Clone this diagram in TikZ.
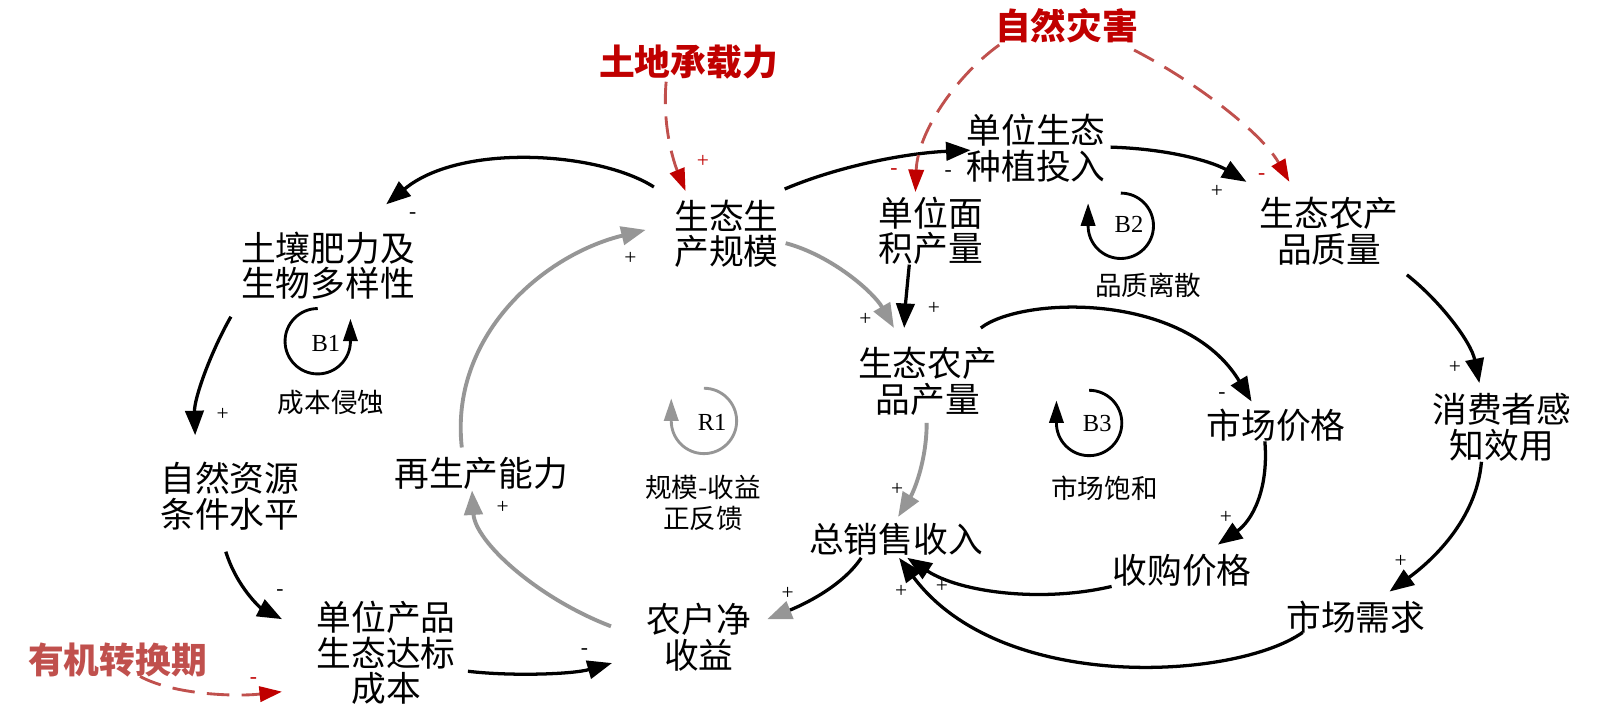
\documentclass[tikz,border=0pt]{standalone}
\usepackage{fontspec}
\setmainfont{Liberation Serif}
\newfontfamily\cjk{Noto Sans CJK SC}
\usetikzlibrary{arrows.meta}
\definecolor{darkred}{RGB}{192,0,0}
\definecolor{lred}{RGB}{192,80,77}
\definecolor{lgray}{RGB}{150,150,150}
\tikzset{
 var/.style={font=\cjk\fontsize{34}{35}\selectfont, align=center, inner sep=0pt},
 exo/.style={font=\cjk\bfseries\fontsize{35}{36}\selectfont, text=darkred, inner sep=0pt},
 small/.style={font=\cjk\fontsize{26}{30}\selectfont, align=center, inner sep=0pt},
 loopname/.style={font=\fontsize{24}{24}\selectfont, inner sep=0pt},
 sgn/.style={font=\fontsize{21}{21}\selectfont, inner sep=0pt},
 rsgn/.style={sgn, text=darkred},
 link/.style={line width=3.2pt, -{Triangle[length=24pt,width=18pt]}},
 glink/.style={line width=3.8pt, draw=lgray, -{Triangle[length=24pt,width=18pt]}},
 rlink/.style={line width=2.8pt, draw=lred, dash pattern=on 22pt off 12pt, -{Triangle[length=22pt,width=15pt,color=darkred]}},
 loopc/.style={line width=2.8pt, -{Triangle[length=22pt,width=14pt]}},
}
\begin{document}
\begin{tikzpicture}[x=1pt,y=-1pt]
\useasboundingbox (0,0) rectangle (1568,703);
% variables
\node[exo] (tdcz) at (674,61) {土地承载力};
\node[exo] (zrzh) at (1044,25) {自然灾害};
\node[exo, text=lred] (yjzh) at (115,646) {有机转换期};
\node[var] (trj) at (1014,145) {单位生态\\种植投入};
\node[var] (scale) at (711,229) {生态生\\产规模};
\node[var] (soil) at (321,260) {土壤肥力及\\生物多样性};
\node[var] (dwcl) at (911,226) {单位面\\积产量};
\node[var] (quality) at (1301,226) {生态农产\\品质量};
\node[var] (output) at (908,373) {生态农产\\品产量};
\node[var] (util) at (1470,418) {消费者感\\知效用};
\node[var] (price) at (1249,416) {市场价格};
\node[var] (regen) at (471,463) {再生产能力};
\node[var] (natres) at (225,486) {自然资源\\条件水平};
\node[var] (sales) at (877,528) {总销售收入};
\node[var] (purchase) at (1157,558) {收购价格};
\node[var] (demand) at (1327,604) {市场需求};
\node[var] (cost) at (378,639) {单位产品\\生态达标\\成本};
\node[var] (netinc) at (684,624) {农户净\\收益};
% connectors
\draw[link] ([shift={(-71,-46)}]scale.center) .. controls +(-55,-35) and +(72,-60) .. ([shift={(57,-60)}]soil.center);
\draw[rlink] ([shift={(-22,19)}]tdcz.center) .. controls +(-4,45) and +(-11,-27) .. ([shift={(-40,-42)}]scale.center);
\draw[link] ([shift={(57,-44)}]scale.center) .. controls +(52,-22) and +(-65,3) .. ([shift={(-64,2)}]trj.center);
\draw[link] ([shift={(73,-1)}]trj.center) .. controls +(63,2) and +(-30,-18) .. ([shift={(-81,-48)}]quality.center);
\draw[rlink] ([shift={(-66,19)}]zrzh.center) .. controls +(-43,31) and +(2,-58) .. ([shift={(-15,-38)}]dwcl.center);
\draw[rlink] ([shift={(66,24)}]zrzh.center) .. controls +(60,31) and +(-27,-48) .. ([shift={(-39,-48)}]quality.center);
\draw[link] ([shift={(-21,33)}]dwcl.center) .. controls +(-2,20) and +(1,-20) .. ([shift={(-23,-52)}]output.center);
\draw[glink] ([shift={(58,9)}]scale.center) .. controls +(45,12) and +(-20,-35) .. ([shift={(-33,-52)}]output.center);
\draw[link] ([shift={(52,-52)}]output.center) .. controls +(40,-31) and +(-65,-108) .. ([shift={(-24,-23)}]price.center);
\draw[link] ([shift={(76,43)}]quality.center) .. controls +(33,26) and +(-8,-40) .. ([shift={(-22,-43)}]util.center);
\draw[glink] ([shift={(-1,41)}]output.center) .. controls +(0,36) and +(16,-26) .. ([shift={(2,-22)}]sales.center);
\draw[link] ([shift={(-11,16)}]price.center) .. controls +(4,48) and +(33,-23) .. ([shift={(35,-25)}]purchase.center);
\draw[link] ([shift={(-20,34)}]util.center) .. controls +(-5,58) and +(40,-29) .. ([shift={(33,-25)}]demand.center);
\draw[link] ([shift={(-69,16)}]purchase.center) .. controls +(-68,16) and +(52,34) .. ([shift={(11,18)}]sales.center);
\draw[link] ([shift={(-52,15)}]demand.center) .. controls +(-65,46) and +(100,134) .. ([shift={(3,18)}]sales.center);
\draw[line width=3.2pt, -{Triangle[length=24pt,width=18pt,color=lgray]}] ([shift={(-34,18)}]sales.center) .. controls +(-20,30) and +(30,-12) .. ([shift={(67,-18)}]netinc.center);
\draw[glink] ([shift={(-86,-11)}]netinc.center) .. controls +(-73,-28) and +(3,50) .. ([shift={(-9,17)}]regen.center);
\draw[glink] ([shift={(-19,-25)}]regen.center) .. controls +(-12,-108) and +(-102,25) .. ([shift={(-79,-4)}]scale.center);
\draw[link] ([shift={(-95,50)}]soil.center) .. controls +(-20,35) and +(-1,-36) .. ([shift={(-34,-60)}]natres.center);
\draw[link] ([shift={(-4,54)}]natres.center) .. controls +(11,35) and +(-21,-11) .. ([shift={(-102,-33)}]cost.center);
\draw[link] ([shift={(80,18)}]cost.center) .. controls +(42,5) and +(-39,11) .. ([shift={(-85,25)}]netinc.center);
\draw[rlink] ([shift={(22,16)}]yjzh.center) .. controls +(33,18) and +(-46,5) .. ([shift={(-102,38)}]cost.center);
% signs
\node[sgn] (s1) at (404,211) {-};
\node[rsgn] (s2) at (688,158) {+};
\node[sgn] (s3) at (928,170) {-};
\node[sgn] (s4) at (1191,187) {+};
\node[rsgn] (s5) at (875,168) {-};
\node[rsgn] (s6) at (1235,173) {-};
\node[sgn] (s7) at (914,302) {+};
\node[sgn] (s8) at (847,313) {+};
\node[sgn] (s9) at (1196,387) {-};
\node[sgn] (s10) at (1424,360) {+};
\node[sgn] (s11) at (878,479) {+};
\node[sgn] (s12) at (1200,506) {+};
\node[sgn] (s13) at (1371,550) {+};
\node[sgn] (s14) at (922,574) {+};
\node[sgn] (s15) at (882,579) {+};
\node[sgn] (s16) at (771,581) {+};
\node[sgn] (s17) at (492,497) {+};
\node[sgn] (s18) at (617,253) {+};
\node[sgn] (s19) at (218,406) {+};
\node[sgn] (s20) at (274,580) {-};
\node[sgn] (s21) at (572,638) {-};
\node[rsgn] (s22) at (248,666) {-};
% loops
\draw[loopc] (311,302) arc[start angle=270,end angle=0,radius=32] -- ++(0,-22);
\node[loopname] (b1) at (319,336) {B1};
\node[small] (b1t) at (324,394) {成本侵蚀};
\draw[loopc] (1097,189) arc[start angle=-90,end angle=180,radius=32] -- ++(0,-22);
\node[loopname] (b2) at (1105,220) {B2};
\node[small] (b2t) at (1124,279) {品质离散};
\draw[loopc] (1066,382) arc[start angle=-90,end angle=180,radius=32] -- ++(0,-22);
\node[loopname] (b3) at (1074,415) {B3};
\node[small] (b3t) at (1081,478) {市场饱和};
\draw[loopc, draw=lgray] (689,380) arc[start angle=-90,end angle=180,radius=32] -- ++(0,-22);
\node[loopname] (r1) at (697,413) {R1};
\node[small] (r1t) at (688,492) {规模-收益\\正反馈};
\end{tikzpicture}
\end{document}
